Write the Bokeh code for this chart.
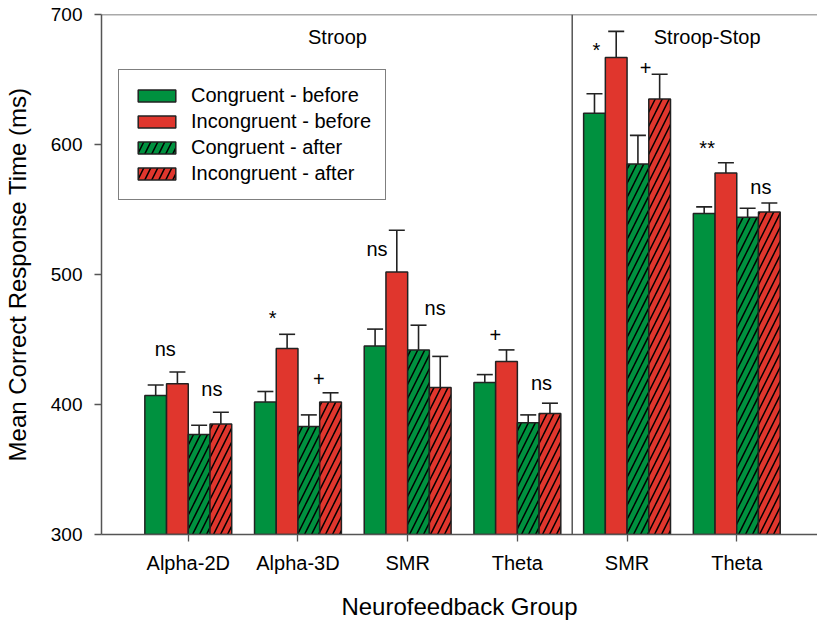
from bokeh.plotting import figure
from bokeh.models import (ColumnDataSource, Range1d, FixedTicker, Span, Legend, LegendItem,
                          Whisker, TeeHead)
from bokeh.transform import dodge
from bokeh.core.properties import value
from bokeh.embed import file_html
from bokeh.resources import INLINE

# ---------------- data ----------------
groups = ["Alpha-2D", "Alpha-3D", "SMR", "Theta", "SMR", "Theta"]
group_pos = [1, 2, 3, 4, 5, 6]

cong_before = [407, 402, 445, 417, 624, 547]
incong_before = [416, 443, 502, 433, 667, 578]
cong_after = [377, 383, 442, 386, 585, 544]
incong_after = [385, 402, 413, 393, 635, 548]

cong_before_err = [8, 8, 13, 6, 15, 5]
incong_before_err = [9, 11, 32, 9, 20, 8]
cong_after_err = [7, 9, 19, 6, 22, 7]
incong_after_err = [9, 7, 24, 8, 19, 7]

series_names = ["Congruent - before", "Incongruent - before",
                "Congruent - after", "Incongruent - after"]

# significance annotations: x position, baseline level (ms), text
annot_x = [0.79, 1.215, 1.77, 2.19, 2.72, 3.25, 3.80, 4.22, 4.72, 5.17, 5.73, 6.22]
annot_y = [438, 407, 462, 415, 515, 470, 449, 412, 668, 654, 593, 563]
annot_text = ["ns", "ns", "*", "+", "ns", "ns", "+", "ns", "*", "+", "**", "ns"]

panel_names = ["Stroop", "Stroop-Stop"]
panel_x = [2.36, 5.73]
panel_y = [677, 677]

y_ticks = [300, 400, 500, 600, 700]

# ---------------- styling ----------------
FONT = "Liberation Sans"
GREEN = "#00913F"
RED = "#E0362D"
AXIS = "#555555"

p = figure(width=817, height=622, output_backend="svg", toolbar_location=None,
           x_range=Range1d(0.209, 6.736), y_range=Range1d(300, 700),
           min_border_left=101, min_border_top=14, min_border_bottom=87, min_border_right=0)
p.outline_line_color = None
p.xgrid.visible = False
p.ygrid.visible = False
p.background_fill_color = "white"
p.border_fill_color = "white"

bw = 0.198
offsets = [-1.5 * bw, -0.5 * bw, 0.5 * bw, 1.5 * bw]
vals = [cong_before, incong_before, cong_after, incong_after]
errs = [cong_before_err, incong_before_err, cong_after_err, incong_after_err]
colors = [GREEN, RED, GREEN, RED]
hatches = [None, None, "/", "/"]

items = []
for name, v, e, c, h, off in zip(series_names, vals, errs, colors, hatches, offsets):
    src = ColumnDataSource(dict(x=group_pos, top=v,
                                upper=[a + b for a, b in zip(v, e)]))
    kw = {}
    if h:
        kw = dict(hatch_pattern=h, hatch_color="black", hatch_weight=1.5, hatch_scale=14)
    r = p.vbar(x=dodge("x", off), top="top", bottom=300, width=bw, source=src,
               fill_color=c, line_color="#222222", line_width=1.5, **kw)
    items.append(LegendItem(label=name, renderers=[r]))
    w = Whisker(base=dodge("x", off), lower="top", upper="upper", source=src,
                line_color="#222222", line_width=1.6,
                upper_head=TeeHead(size=16, line_color="#222222", line_width=1.6),
                lower_head=None, level="overlay")
    p.add_layout(w)

# annotations
asrc = ColumnDataSource(dict(x=annot_x, y=annot_y, t=annot_text))
p.text(x="x", y="y", text="t", source=asrc, text_align="center",
       text_baseline="alphabetic", text_font=value(FONT), text_font_size="20px",
       text_color="black", y_offset=-6)
psrc = ColumnDataSource(dict(x=panel_x, y=panel_y, t=panel_names))
p.text(x="x", y="y", text="t", source=psrc, text_align="center",
       text_baseline="alphabetic", text_font=value(FONT), text_font_size="20px",
       text_color="black", y_offset=-7)

# frame lines
p.add_layout(Span(location=700, dimension="width", line_color=AXIS, line_width=1.5))
p.add_layout(Span(location=4.5, dimension="height", line_color=AXIS, line_width=1.5))

# axes
p.yaxis.ticker = FixedTicker(ticks=y_ticks)
p.yaxis.axis_label = "Mean Correct Response Time (ms)"
p.xaxis.ticker = FixedTicker(ticks=group_pos)
p.xaxis.major_label_overrides = {pos: g for pos, g in zip(group_pos, groups)}
p.xaxis.axis_label = "Neurofeedback Group"
for ax in (p.xaxis, p.yaxis):
    ax.axis_line_color = AXIS
    ax.axis_line_width = 1.5
    ax.major_tick_line_color = AXIS
    ax.major_tick_line_width = 1.3
    ax.major_tick_out = 7
    ax.major_tick_in = 0
    ax.minor_tick_line_color = None
    ax.major_label_text_font = FONT
    ax.major_label_text_color = "black"
    ax.axis_label_text_font = FONT
    ax.axis_label_text_font_size = "24px"
    ax.axis_label_text_font_style = "normal"
    ax.axis_label_text_color = "black"
p.yaxis.major_label_text_font_size = "19px"
p.xaxis.major_label_text_font_size = "20px"
p.yaxis.major_label_standoff = 12
p.yaxis.axis_label_standoff = 17
p.xaxis.major_label_standoff = 10
p.xaxis.axis_label_standoff = 16

legend = Legend(items=items, location=(17, 334), glyph_width=47, glyph_height=15,
                label_text_font=FONT, label_text_font_size="20px", label_standoff=11,
                label_text_color="black",
                padding=14, spacing=3, margin=0,
                border_line_color="black", border_line_width=1.5,
                background_fill_color="white", background_fill_alpha=1.0)
p.add_layout(legend)

open("out.html", "w").write(file_html(p, INLINE))
